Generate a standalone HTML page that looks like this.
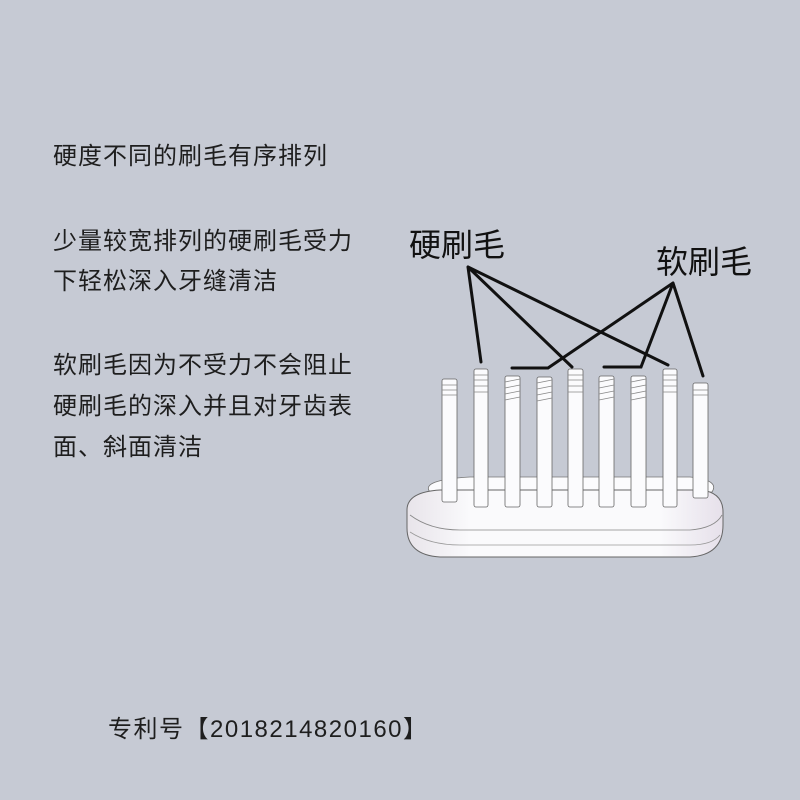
<!DOCTYPE html>
<html><head><meta charset="utf-8"><style>
body{margin:0;width:800px;height:800px;background:#c6cad4;position:relative;overflow:hidden;font-family:"Liberation Sans","Noto Sans CJK SC",sans-serif;color:#1e1e1e}
.t{position:absolute;left:53px;font-size:24px;letter-spacing:1px;white-space:nowrap;line-height:28px}
</style></head><body>
<div class="t" style="top:143px">硬度不同的刷毛有序排列</div>
<div class="t" style="top:228px">少量较宽排列的硬刷毛受力</div>
<div class="t" style="top:268px">下轻松深入牙缝清洁</div>
<div class="t" style="top:352px">软刷毛因为不受力不会阻止</div>
<div class="t" style="top:393px">硬刷毛的深入并且对牙齿表</div>
<div class="t" style="top:434px">面、斜面清洁</div>
<div style="position:absolute;left:108px;top:709px;font-size:24px;letter-spacing:1.5px;white-space:nowrap">专利号【2018214820160】</div>
<svg width="800" height="800" style="position:absolute;left:0;top:0">
<defs><linearGradient id="g" x1="0" x2="1"><stop offset="0" stop-color="#e8e4ea"/><stop offset="0.2" stop-color="#fafafc"/><stop offset="0.8" stop-color="#fafafc"/><stop offset="1" stop-color="#e6e0ea"/></linearGradient></defs>
<path d="M430,492 Q420,480 470,477 L690,477 Q720,480 712,492 Z" fill="#fbfbfd" stroke="#777" stroke-width="0.8"/>
<path d="M407,510 Q407,492 440,490 L700,490 Q723,492 723,512 L723,525 Q723,555 690,557 L440,557 Q407,555 407,528 Z" fill="url(#g)" stroke="#666" stroke-width="1"/>
<path d="M410,515 Q430,530 460,530 L690,530 Q715,528 722,515" fill="none" stroke="#888" stroke-width="0.8"/>
<path d="M410,532 Q430,545 460,545 L690,545 Q712,545 720,535" fill="none" stroke="#999" stroke-width="0.8"/>
<g fill="#fbfbfd" stroke="#666" stroke-width="0.8">
<rect x="442" y="379" width="15" height="123" rx="2"/>
<rect x="474" y="369" width="14" height="138" rx="2"/>
<rect x="505" y="376" width="15" height="131" rx="2"/>
<rect x="537" y="377" width="15" height="130" rx="2"/>
<rect x="568" y="369" width="15" height="138" rx="2"/>
<rect x="599" y="376" width="15" height="131" rx="2"/>
<rect x="631" y="376" width="15" height="131" rx="2"/>
<rect x="663" y="369" width="14" height="138" rx="2"/>
<rect x="693" y="383" width="15" height="115" rx="2"/>
</g>
<g stroke="#888" stroke-width="0.8">
<path d="M442,385h15M442,390h15M442,395h15M474,375h14M474,380h14M474,386h14M474,392h14M568,375h15M568,380h15M568,386h15M568,392h15M663,375h14M663,380h14M663,386h14M663,392h14M693,390h15M693,395h15"/>
<path d="M505,382l15,-3M505,388l15,-3M505,394l15,-3M505,400l15,-3M537,383l15,-3M537,389l15,-3M537,395l15,-3M537,401l15,-3M599,382l15,-3M599,388l15,-3M599,394l15,-3M599,400l15,-3M631,382l15,-3M631,388l15,-3M631,394l15,-3M631,400l15,-3"/>
</g>
<g stroke="#111" stroke-width="3" fill="none" stroke-linecap="round">
<path d="M468,267L481,362M468,267L572,367M468,267L668,365"/>
<path d="M673,283L548,368L512,368M673,283L641,367L604,367M673,283L703,376"/>
</g>
<text x="409" y="256" font-size="32" fill="#111" font-family="Liberation Sans,Noto Sans CJK SC,sans-serif">硬刷毛</text>
<text x="656" y="273" font-size="32" fill="#111" font-family="Liberation Sans,Noto Sans CJK SC,sans-serif">软刷毛</text>
</svg>
</body></html>
